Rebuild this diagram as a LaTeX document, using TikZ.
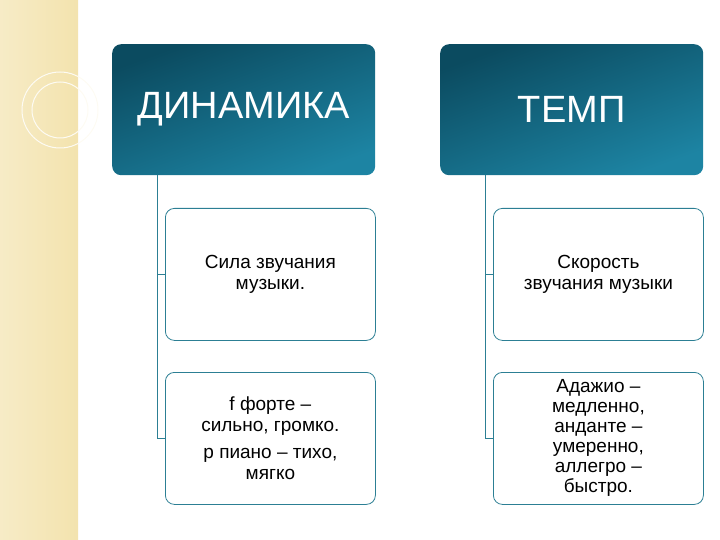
\documentclass[tikz,border=0pt]{standalone}
\usepackage{fontspec}
\setmainfont{Liberation Sans}
\usetikzlibrary{positioning}
\definecolor{teal1}{HTML}{0B4B60}
\definecolor{teal2}{HTML}{1D84A3}
\definecolor{edgeteal}{HTML}{2C7F94}
\definecolor{beige}{HTML}{F3E3AE}
\tikzset{
  headbox/.style={rounded corners=9pt, minimum width=263pt, minimum height=131pt,
    inner sep=0pt, shading=axis, top color=teal1, bottom color=teal2, shading angle=20,
    text=white, font=\fontsize{38}{40}\selectfont},
  itembox/.style={draw=edgeteal, line width=0.8pt, rounded corners=9pt, fill=white,
    minimum width=210pt, minimum height=132pt, inner sep=2pt, align=center,
    font=\fontsize{19}{21}\selectfont},
  branch/.style={draw=edgeteal, line width=1pt}
}
\begin{document}
\begin{tikzpicture}[x=1pt,y=-1pt]
\useasboundingbox (0,0) rectangle (720,540);

%left band
\shade[left color=beige!70, right color=beige] (0,0) rectangle (78,540);
\draw[white!85!beige, line width=1pt] (60,110) circle (38);
\draw[white!85!beige, line width=1pt] (60,110) circle (28);

%headers
\node[headbox, anchor=north west] (dyn) at (112,44) {ДИНАМИКА};
\node[headbox, anchor=north west] (tempo) at (440,44) {ТЕМП};

%items
\node[itembox, anchor=north west] (dyn1) at (165,208) {Сила звучания\\музыки.};
\node[itembox, anchor=north west] (dyn2) at (165,372) {f форте –\\сильно, громко.\\[6pt]р пиано – тихо,\\мягко};
\node[itembox, anchor=north west] (tempo1) at (493,208) {Скорость\\звучания музыки};
\node[itembox, anchor=north west, font=\fontsize{19}{20}\selectfont] (tempo2) at (493,372) {Адажио –\\медленно,\\анданте –\\умеренно,\\аллегро –\\быстро.};

%branches
\coordinate (dtop) at ([xshift=-86pt]dyn.south);
\coordinate (ttop) at ([xshift=-86pt]tempo.south);
\draw[branch] (dtop) |- (dyn2.west);
\draw[branch] (dtop |- dyn1.west) -- (dyn1.west);
\draw[branch] (ttop) |- (tempo2.west);
\draw[branch] (ttop |- tempo1.west) -- (tempo1.west);
\end{tikzpicture}
\end{document}
